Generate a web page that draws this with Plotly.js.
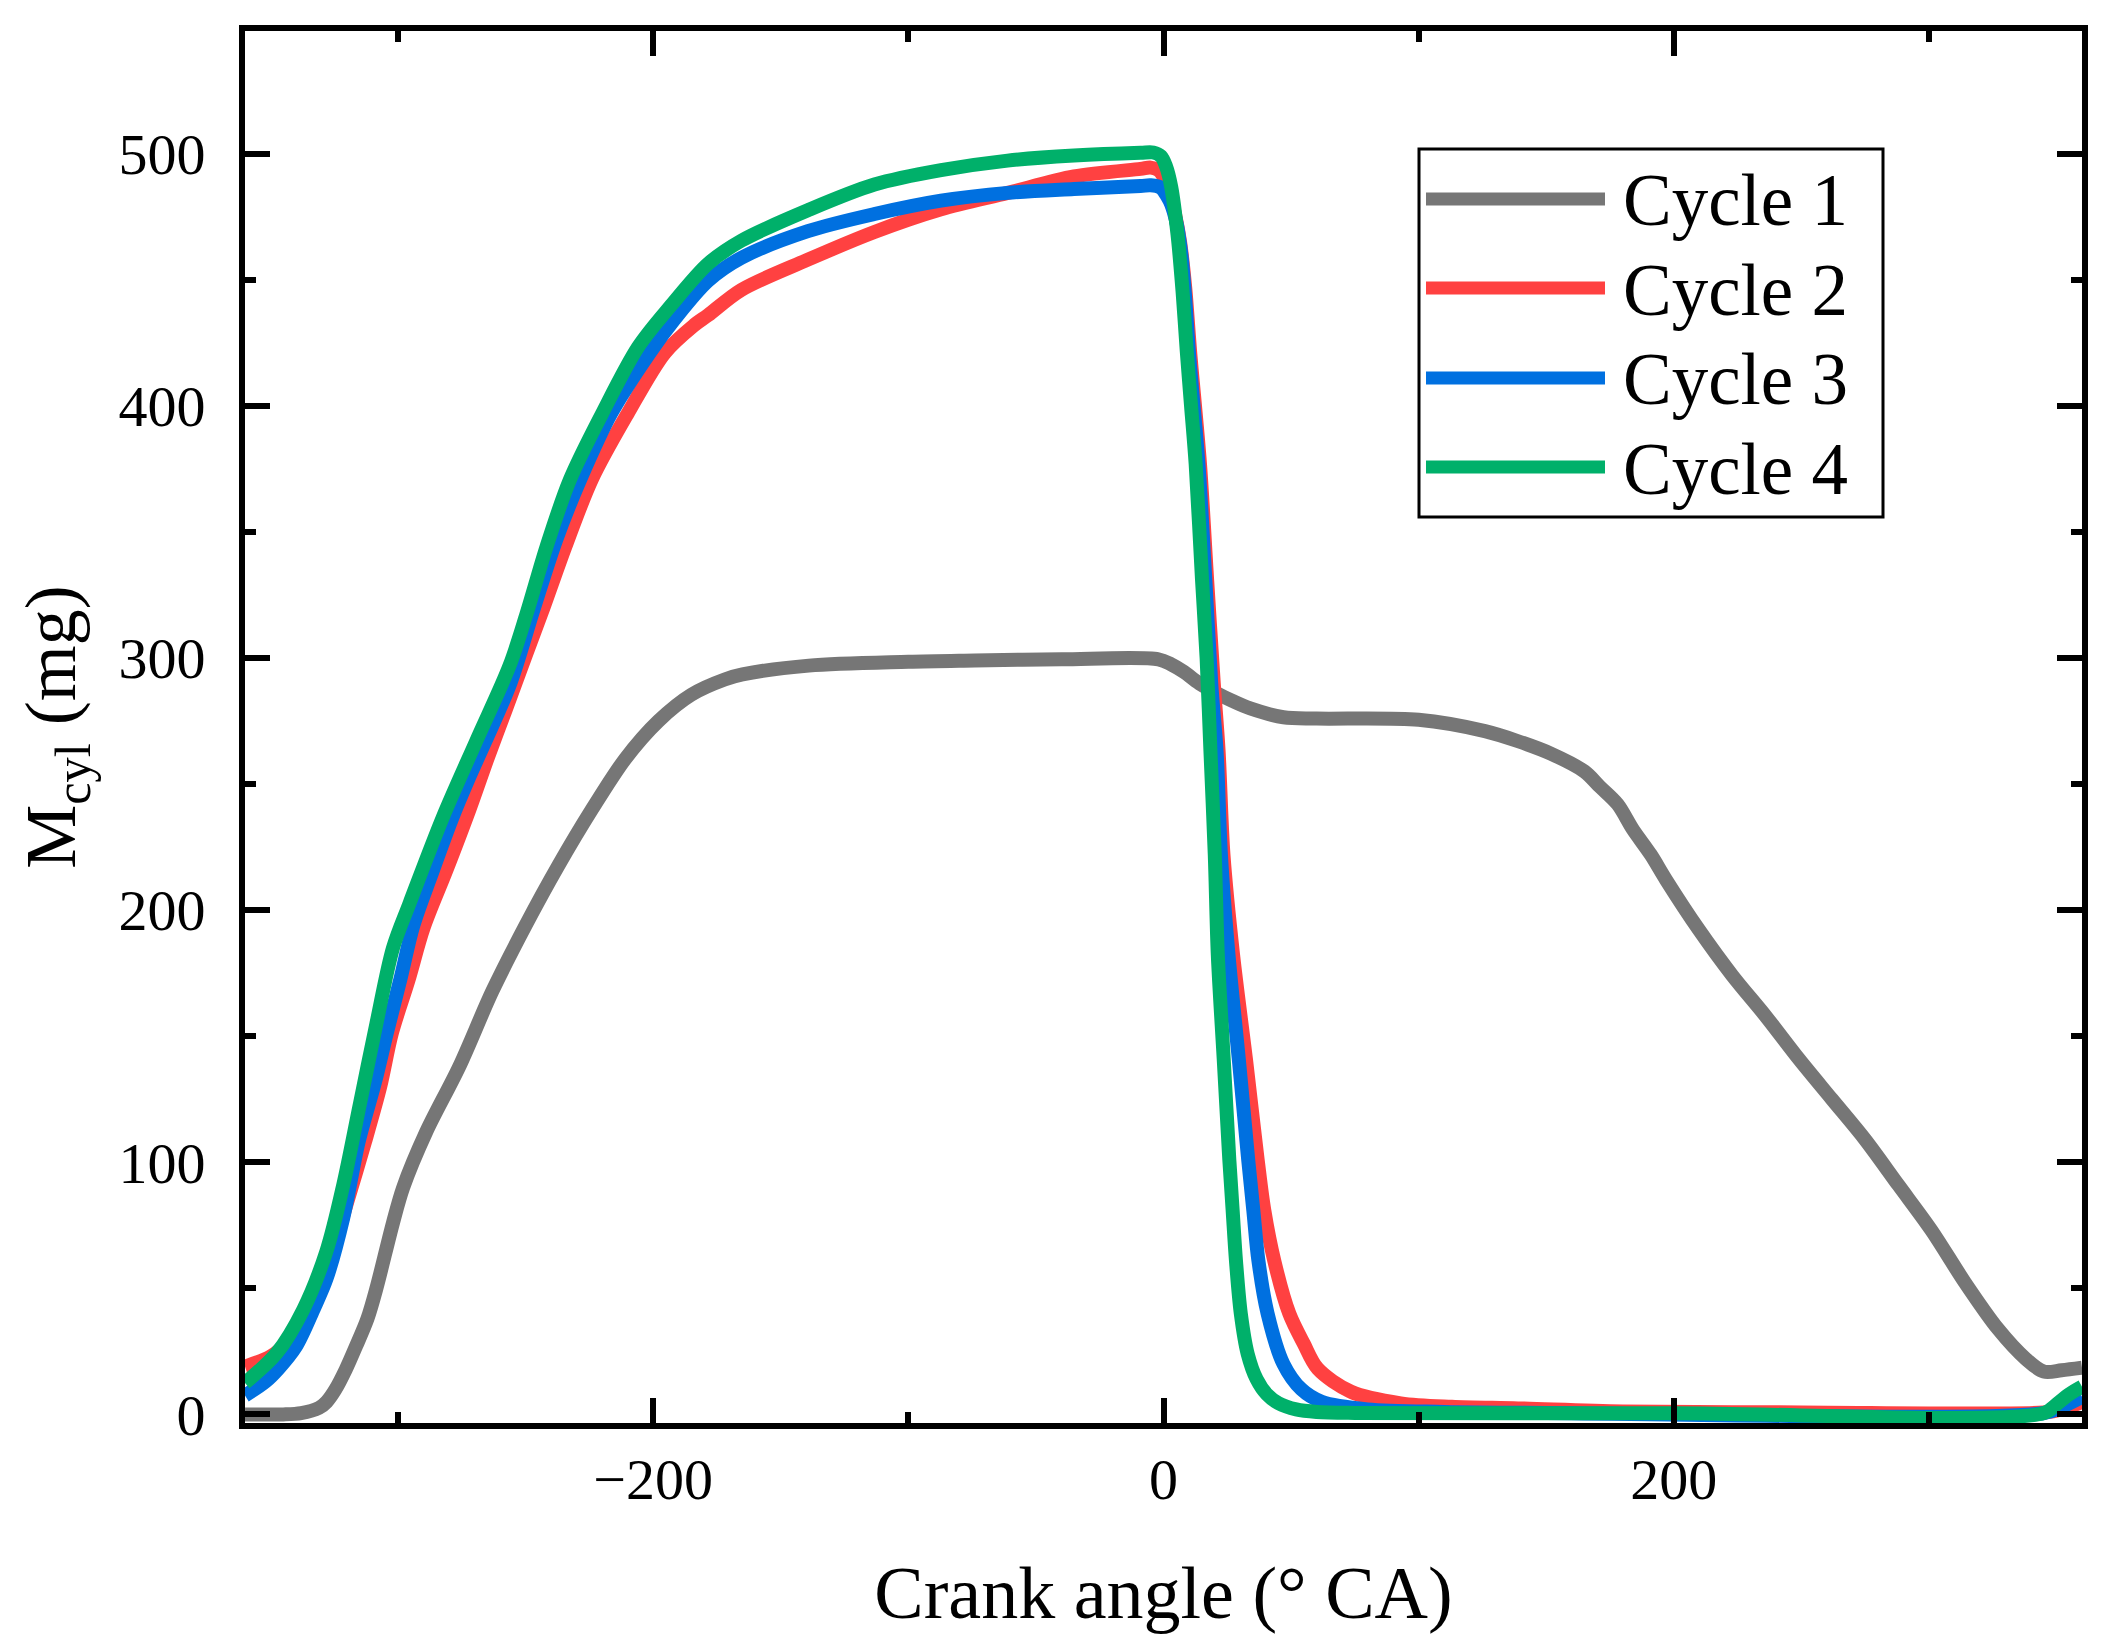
<!DOCTYPE html>
<html>
<head>
<meta charset="utf-8">
<script src="https://cdn.plot.ly/plotly-3.0.1.min.js"></script>
<style>
  html, body { margin: 0; padding: 0; background: #fff; }
</style>
</head>
<body>
<div id="chart"></div>
<script>
// cylinder mass vs crank angle, one trace per cycle
var cycleNames = ['Cycle 1', 'Cycle 2', 'Cycle 3', 'Cycle 4'];

var angle1 = [-360,-345,-338,-331,-328,-324.5,-320.5,-316.5,-312,-308.5,-302,-298,-289,-276,-263,-250,-237,-224,-211,-198,
  -185,-172,-165,-139,-100,-74,-40,-2,3,8,14,21,27,34,47,60,100,126,139,152,
  165,171,178,184,191,197,210,223,236,249,262,275,288,301,314,327,338,345,352,360];
var mass1 = [0,0,0.5,2.6,5,10,17.8,27,38,50,76,90,112,138,168,194,218,240,260,275,
  285.5,291.5,293.5,297,298.5,299,299.5,299.5,297.5,294.5,290,286,283,280,276.5,276,275.5,271,267,262,
  255,249,242,232,222,212,192,174,158,141,125,109,91,73,52.5,34,22,17,17.5,18.5];

var angle2 = [-360,-350,-343,-336,-330,-325.5,-320,-313,-307,-302.5,-296,-290,-281,-272,-265,-258,-250,-243,-234.5,-224,
  -210,-195.5,-184,-178.5,-165.5,-139.4,-113.3,-87.2,-61.1,-35.1,-9,-5,-2,0.5,2.5,4.5,6.5,8.5,10.4,14.3,
  17.1,19.7,21.6,23.5,27.3,32.3,36.9,39.5,43.4,49.3,55,60.4,73.5,93,113,139,180,250,345,352,360];
var mass2 = [19,23,29,40,52,65,84,108,130,151,172,193,216,240,260,279,301,320,344,371,
  397,421,432,436,446,458,469,478,484.5,491,494,494.5,493.5,490,484,476,465,447,422,377,
  331,290,263,222,182,141,101,81,61,40,28,18.2,9,4.4,3,2.4,1.2,0.8,0.8,2,5];

var angle3 = [-360,-352,-347,-340,-333,-328,-321.5,-315.5,-309,-304.5,-299,-294,-287,-279,-272,-265.8,-256,-247,-238,-228.7,
  -216.5,-201.4,-191.6,-178.5,-165.5,-139.4,-113.3,-87.2,-61.1,-35.1,-9,-5,-1,1.5,3,5,7,8.5,9.9,13.7,
  16.4,18.7,20.8,22.5,25.5,29.5,33.2,35.2,37.2,40.8,47,54,62,80,110,150,345,352,360];
var mass3 = [7.5,13,18,27,42,54,78,108,132,151,173,194,214,236,253,267,290,319,347,370.6,
  397,421,434.4,449.6,458.7,469.3,476.1,481.4,484.5,486,487.2,487.5,486.5,483,480,473,460,443,422,377,
  331,290,263,222,182,141,101,81,61,40,20,10,5,2,1,0.6,0.5,3,7];

var angle4 = [-360,-347.6,-337.2,-328,-321.5,-315,-308.5,-302,-295.4,-282.4,-269.4,-256.3,-249.6,-241.8,-232.7,-220,-205.9,-192.9,-178.5,-165.5,
  -139.4,-113.3,-87.2,-61.1,-35.1,-9,-4,-1,1,3,5.5,7.5,9.1,10.8,12.6,15.1,16.9,18.4,20.1,21.3,
  23.6,25.8,27.1,28.4,30.3,33,36.5,40.5,45,52,60,75,200,345,350,355,360];
var mass4 = [12.5,24.3,41.5,65,91,123,155,185,203,237,267,297,317.7,344.2,370.6,397,423.4,440,456.4,465.5,
  477.6,487.8,493.5,497.3,499.3,500.4,500.5,499,495,487,468,445,422,400,377,331,300,263,222,182,
  141,101,81,61,40,24,14,8,4.5,2,1,0.6,0.5,0.5,4,8,11];

var xTickVals = [-200, 0, 200];
var yTickVals = [0, 100, 200, 300, 400, 500];

var colors = ['#767676', '#ff4141', '#0070e0', '#00b06a'];
var serif = 'Liberation Serif, Times New Roman, serif';

var W = 2111, H = 1647;
var M = {l: 245, r: 29, t: 31, b: 224};

var angles = [angle1, angle2, angle3, angle4];
var masses = [mass1, mass2, mass3, mass4];

var data = [];
for (let i = 0; i < cycleNames.length; i++) {
    data.push({
        x: angles[i],
        y: masses[i],
        name: cycleNames[i],
        type: 'scatter',
        mode: 'lines',
        line: {color: colors[i], width: 14, shape: 'spline', smoothing: 0.9}
    });
}

// pixel -> paper helpers for the hand drawn legend
function px(x) { return (x - M.l) / (W - M.l - M.r); }
function py(y) { return (H - M.b - y) / (H - M.t - M.b); }

var shapes = [{
    type: 'rect', xref: 'paper', yref: 'paper',
    x0: px(1419), x1: px(1883), y0: py(517), y1: py(149),
    line: {color: '#000', width: 3}, fillcolor: 'rgba(0,0,0,0)'
}];
var annotations = [];
var rowY = [199, 288, 378, 467];
for (let i = 0; i < cycleNames.length; i++) {
    shapes.push({
        type: 'line', xref: 'paper', yref: 'paper',
        x0: px(1426), x1: px(1605), y0: py(rowY[i]), y1: py(rowY[i]),
        line: {color: colors[i], width: 13}
    });
    annotations.push({
        xref: 'paper', yref: 'paper', x: px(1621), y: py(rowY[i] + 2),
        xanchor: 'left', yanchor: 'middle', showarrow: false,
        text: cycleNames[i], font: {family: serif, size: 73, color: '#000'}
    });
}

var axisCommon = {
    showline: true, linewidth: 6, linecolor: '#000', mirror: 'allticks',
    ticks: 'inside', ticklen: 25, tickwidth: 6, tickcolor: '#000',
    showgrid: false, zeroline: false,
    tickfont: {family: serif, size: 58, color: '#000'}
};

var layout = {
    width: W, height: H,
    margin: M,
    paper_bgcolor: '#fff', plot_bgcolor: '#fff',
    showlegend: false,
    font: {family: serif, color: '#000'},
    xaxis: Object.assign({}, axisCommon, {
        range: [-360, 360],
        tickvals: xTickVals,
        minor: {dtick: 100, tick0: 0, ticks: 'inside', ticklen: 11, tickwidth: 6, tickcolor: '#000'},
        title: {text: 'Crank angle (° CA)', font: {family: serif, size: 74, color: '#000'}, standoff: 58}
    }),
    yaxis: Object.assign({}, axisCommon, {
        range: [-3.4, 548.7],
        tickvals: yTickVals,
        ticklabelstandoff: 22,
        minor: {dtick: 50, tick0: 0, ticks: 'inside', ticklen: 11, tickwidth: 6, tickcolor: '#000'},
        title: {text: 'M<sub>cyl</sub> (mg)', font: {family: serif, size: 72, color: '#000'}, standoff: 21}
    }),
    shapes: shapes,
    annotations: annotations
};

Plotly.newPlot('chart', data, layout, {staticPlot: true});
</script>
</body>
</html>
